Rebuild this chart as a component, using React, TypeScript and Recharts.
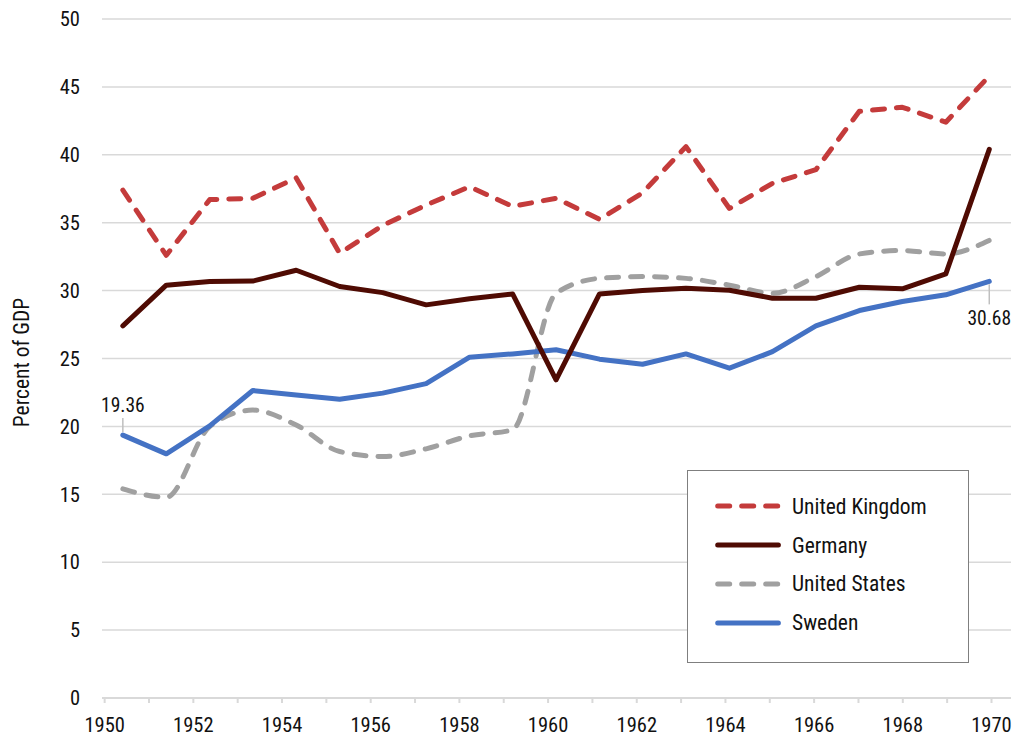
import React from 'react';
import { LineChart, Line, XAxis, YAxis, CartesianGrid, Legend, LabelList } from 'recharts';

const FONT = "'Roboto Condensed', 'Liberation Sans Narrow', 'Arial Narrow', Roboto, sans-serif";
const TEXT = '#111111';
const GRID = '#d9d9d9';

const periods = [
  1950.41, 1951.39, 1952.37, 1953.34, 1954.32, 1955.3, 1956.27, 1957.25, 1958.23, 1959.2,
  1960.18, 1961.16, 1962.13, 1963.11, 1964.09, 1965.06, 1966.04, 1967.02, 1967.99, 1968.97,
  1969.95,
];

const unitedKingdom = [
  37.4, 32.6, 36.7, 36.8, 38.3, 32.75, 34.8, 36.3, 37.65, 36.2,
  36.8, 35.25, 37.2, 40.6, 36.05, 37.9, 38.9, 43.2, 43.5, 42.4,
  45.8,
];
const germany = [
  27.4, 30.4, 30.67, 30.7, 31.5, 30.3, 29.85, 28.95, 29.4, 29.75,
  23.43, 29.75, 30.0, 30.18, 30.02, 29.44, 29.44, 30.25, 30.13, 31.23,
  40.4,
];
const unitedStates = [
  15.4, 14.78, 20.0, 21.2, 20.1, 18.15, 17.78, 18.35, 19.3, 19.75,
  29.8, 30.9, 31.03, 30.9, 30.4, 29.8, 31.03, 32.7, 32.95, 32.7,
  33.7,
];
const sweden = [
  19.36, 17.98, 20.04, 22.64, 22.32, 22.0, 22.45, 23.15, 25.1, 25.34,
  25.64, 24.95, 24.58, 25.34, 24.29, 25.5, 27.4, 28.53, 29.2, 29.69,
  30.68,
];

const yearTicks = [
  1950, 1951, 1952, 1953, 1954, 1955, 1956, 1957, 1958, 1959, 1960,
  1961, 1962, 1963, 1964, 1965, 1966, 1967, 1968, 1969, 1970,
];
const valueTicks = [0, 5, 10, 15, 20, 25, 30, 35, 40, 45, 50];

const legendItems = [
  { name: 'United Kingdom', color: '#C43B3B', dash: '12 12' },
  { name: 'Germany', color: '#4F0B03', dash: undefined },
  { name: 'United States', color: '#A0A0A0', dash: '12 12' },
  { name: 'Sweden', color: '#4472C4', dash: undefined },
];

const data = periods.map((x, i) => ({
  x,
  uk: unitedKingdom[i],
  de: germany[i],
  us: unitedStates[i],
  se: sweden[i],
}));

const textStyle = { fontFamily: FONT, fontStretch: 'condensed' as const };

// only the first and last Sweden points carry a value label
function SwedenLabel(props: any) {
  const { x, y, value, index } = props;
  if (index === 0) {
    return (
      <g>
        <line x1={x} y1={y - 3} x2={x} y2={y - 17} stroke="#bfbfbf" strokeWidth={1.5} />
        <text x={x} y={y - 23} textAnchor="middle" fontSize={19.5} style={textStyle} fill={TEXT}>
          {Number(value).toFixed(2)}
        </text>
      </g>
    );
  }
  if (index === sweden.length - 1) {
    return (
      <g>
        <line x1={x} y1={y + 3} x2={x} y2={y + 23} stroke="#bfbfbf" strokeWidth={1.5} />
        <text x={x} y={y + 44} textAnchor="middle" fontSize={19.5} style={textStyle} fill={TEXT}>
          {Number(value).toFixed(2)}
        </text>
      </g>
    );
  }
  return null;
}

function LegendBox() {
  return (
    <div
      style={{
        width: 282,
        height: 193,
        boxSizing: 'border-box',
        border: '1.5px solid #7f7f7f',
        background: '#fff',
        paddingTop: 16,
        ...textStyle,
      }}
    >
      {legendItems.map((item) => (
        <div key={item.name} style={{ display: 'flex', alignItems: 'center', height: 38.8 }}>
          <svg width={104} height={12} style={{ flex: 'none' }}>
            <line
              x1={29.7}
              y1={6}
              x2={90.4}
              y2={6}
              stroke={item.color}
              strokeWidth={5}
              strokeLinecap="round"
              strokeDasharray={item.dash}
            />
          </svg>
          <span style={{ fontSize: 21.5, color: TEXT, whiteSpace: 'nowrap' }}>{item.name}</span>
        </div>
      ))}
    </div>
  );
}

export default function App() {
  return (
    <div style={{ width: 1015, height: 738, background: '#fff' }}>
      <style>{'body{margin:0}'}</style>
      <LineChart width={1015} height={738} data={data} margin={{ top: 19, right: 4, bottom: 0, left: 0 }}>
        <CartesianGrid vertical={false} stroke={GRID} strokeWidth={1.5} />
        <XAxis
          dataKey="x"
          type="number"
          domain={[1949.94, 1970.44]}
          ticks={yearTicks}
          interval={0}
          height={40}
          tickSize={5}
          tickMargin={14}
          tickFormatter={(v: number) => (v % 2 === 0 ? String(v) : '')}
          stroke={GRID}
          strokeWidth={2}
          tick={{ fill: TEXT, fontSize: 20.5, style: textStyle }}
        />
        <YAxis
          type="number"
          domain={[0, 50]}
          ticks={valueTicks}
          interval={0}
          width={102}
          axisLine={false}
          tickLine={false}
          tickSize={6}
          tickMargin={16}
          tick={{ fill: TEXT, fontSize: 20.5, style: textStyle }}
          label={{
            value: 'Percent of GDP',
            content: (p: any) => {
              const vb = p.viewBox || { y: 19, height: 679 };
              const cy = vb.y + vb.height / 2 + 4;
              return (
                <text
                  x={21}
                  y={cy}
                  transform={`rotate(-90 21 ${cy})`}
                  textAnchor="middle"
                  dominantBaseline="central"
                  fontSize={21.5}
                  style={textStyle}
                  fill={TEXT}
                >
                  Percent of GDP
                </text>
              );
            },
          }}
        />
        <Legend
          layout="horizontal"
          verticalAlign="middle"
          align="center"
          content={() => <LegendBox />}
          wrapperStyle={{ left: 687, top: 470, width: 282, height: 193 }}
        />
        <Line
          dataKey="uk"
          name="United Kingdom"
          type="linear"
          stroke="#C43B3B"
          strokeWidth={5}
          strokeDasharray="12 12"
          strokeLinecap="round"
          strokeLinejoin="round"
          dot={false}
          activeDot={false}
          isAnimationActive={false}
        />
        <Line
          dataKey="us"
          name="United States"
          type="monotone"
          stroke="#A0A0A0"
          strokeWidth={5}
          strokeDasharray="12 12"
          strokeLinecap="round"
          strokeLinejoin="round"
          dot={false}
          activeDot={false}
          isAnimationActive={false}
        />
        <Line
          dataKey="se"
          name="Sweden"
          type="linear"
          stroke="#4472C4"
          strokeWidth={5}
          strokeLinecap="round"
          strokeLinejoin="round"
          dot={false}
          activeDot={false}
          isAnimationActive={false}
        >
          <LabelList dataKey="se" content={SwedenLabel} />
        </Line>
        <Line
          dataKey="de"
          name="Germany"
          type="linear"
          stroke="#4F0B03"
          strokeWidth={5}
          strokeLinecap="round"
          strokeLinejoin="round"
          dot={false}
          activeDot={false}
          isAnimationActive={false}
        />
      </LineChart>
    </div>
  );
}
